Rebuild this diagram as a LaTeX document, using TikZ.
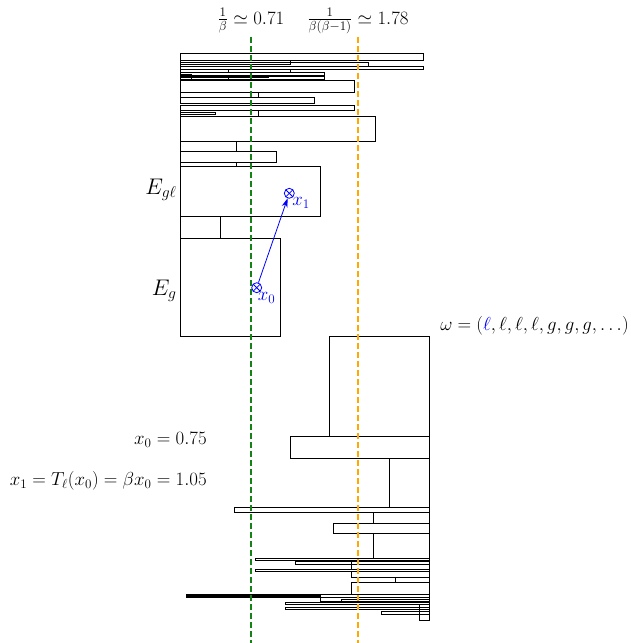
\documentclass[tikz,border=0pt]{standalone}
\usepackage{xcolor}
\usepackage{tikz}
\usetikzlibrary{arrows.meta,positioning}
\definecolor{LineGreen}{RGB}{20,130,20}
\definecolor{LineOrange}{RGB}{255,168,0}
\newcommand{\lblfont}{\fontsize{17.28}{21}\selectfont}
\newcommand{\biglblfont}{\fontsize{20.74}{25}\selectfont}

\begin{document}
\begin{tikzpicture}[x=1pt,y=-1pt,
  box/.style={draw=black,line width=0.8pt},
  gline/.style={draw=LineGreen,line width=2pt,dash pattern=on 6pt off 3pt},
  oline/.style={draw=LineOrange,line width=2pt,dash pattern=on 6pt off 3pt},
  lbl/.style={font=\lblfont,inner sep=1pt,scale=1.09},
  elbl/.style={font=\biglblfont,inner sep=1pt,anchor=east,scale=1.09},
  otim/.style={circle,draw=blue,line width=0.8pt,minimum size=10pt,inner sep=0pt,
    path picture={\draw[blue,line width=0.8pt]
      (path picture bounding box.north west)--(path picture bounding box.south east)
      (path picture bounding box.north east)--(path picture bounding box.south west);}},
  arr/.style={-{Stealth[length=9pt,width=6pt]},line width=0.8pt,color=blue}
]
\useasboundingbox (0,0) rectangle (631,643);

% upper stack, left edge at 0
\foreach \l/\t/\r/\b in {180/53.5/423/60.7, 180/60.7/290/64.5, 180/62/368/66,
  180/66/423/69.3, 180/69/290/72, 180/69/228/72, 180/72/324/75.3,
  180/75.3/268/77, 180/76.7/324/79.3, 180/74/191/79.7, 180/77/228/79.3,
  180/80/354/92.3, 180/92.3/258.3/97.3, 180/97.3/314.3/103.3,
  180/105.3/354.3/110.7, 180/110.7/258.3/116, 180/112/215/114.5,
  180/116/375.7/141.3, 180/141.3/236.7/151.7, 180/151.7/276/162.3,
  180/162.3/236.7/166.7, 180/166.7/320/216.7, 180/216.7/220/238,
  180/238/280/336.7}
  \draw[box] (\l,\t) rectangle (\r,\b);

% lower stack, right edge at 2.5
\foreach \l/\t/\r/\b in {329.3/336.7/429/436.7, 290/436.7/429/458,
  389.3/458/429/507.7, 234.3/507.7/429/512.3, 373.3/512.3/429/523.3,
  333.3/523.3/429/533.7, 373.3/533.7/429/558.3, 255.7/558.3/429/560,
  351/560/429/569.3, 295.3/561/429/564, 255.7/569.3/429/571.7,
  351/571.7/429/577, 395/577/429/582, 351/582/429/594.3,
  186/594.3/429/597.3, 186/595/320/596.5, 320/597.3/429/601.7,
  341/599/429/602.3, 285.7/602.3/429/604.5, 285.7/607.3/429/609.3,
  381.3/611.7/429/614.3, 419.3/604.5/429/620.3}
  \draw[box] (\l,\t) rectangle (\r,\b);

% thresholds
\node[lbl,anchor=base] (glbl) at (251,24) {$\frac{1}{\beta}\simeq 0.71$};
\node[lbl,anchor=base] (olbl) at (358,24) {$\frac{1}{\beta(\beta-1)}\simeq 1.78$};
\coordinate (gtop) at (251,37);
\coordinate (gbot) at (251,643);
\coordinate (otop) at (358,37);
\coordinate (obot) at (358,643);
\draw[gline] (gtop)--(gbot);
\draw[oline] (otop)--(obot);

% labels
\node[elbl] (egl) at (178,190) {$E_{g\ell}$};
\node[elbl] (eg) at (178,291) {$E_g$};
\node[lbl,anchor=east] (x0val) at (208,440) {$x_0=0.75$};
\node[lbl,anchor=east] (x1val) at (208,481) {$x_1=T_\ell(x_0)=\beta x_0=1.05$};
\node[lbl,anchor=west] (word) at (439,326)
  {$\omega=({\color{blue}\ell},\ell,\ell,\ell,g,g,g,\dots)$};

% orbit
\node[otim] (x0) at (256.7,287.7) {};
\node[otim] (x1) at (289.3,193.3) {};
\node[lbl,blue,below right=0pt and -4pt of x0] (x0lbl) {$x_0$};
\node[lbl,blue,below right=-1pt and -2pt of x1] (x1lbl) {$x_1$};
\draw[arr](x0)--(x1);
\end{tikzpicture}
\end{document}
